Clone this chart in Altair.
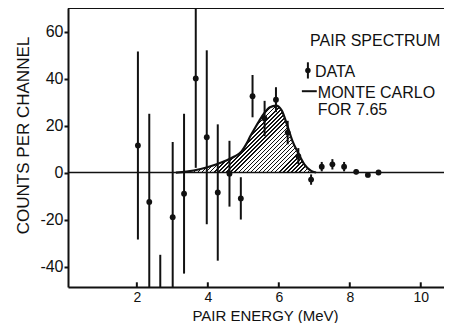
import altair as alt
import pandas as pd

# ---- data ----
energy = [2.03, 2.35, 2.66, 3.01, 3.33, 3.66, 3.97, 4.28, 4.61, 4.93, 5.26,
          5.60, 5.92, 6.25, 6.55, 6.91, 7.21, 7.51, 7.84, 8.18, 8.51, 8.81]
counts = [11.5, -12.5, -75, -19, -9, 40, 15, -8.5, -0.5, -11, 32.5,
          23, 31, 17, 7, -3, 2.5, 3.5, 2.5, 0.3, -1, 0]
errors = [40, 37.5, 40, 32, 34, 38, 37, 29, 14, 9, 9,
          7.5, 5.3, 5, 3.4, 2.2, 2, 2.2, 2, 1, 1, 1]

mc_energy = [3.1, 3.4, 3.8, 4.25, 4.5, 4.75, 4.95, 5.1, 5.2, 5.35, 5.45,
             5.6, 5.75, 5.92, 6.08, 6.24, 6.38, 6.55, 6.72, 6.9, 7.05]
mc_counts = [0, 0.4, 1.5, 3.5, 5, 6.8, 9, 12.5, 15.5, 19.5, 22,
             25.5, 27.8, 28.5, 26.5, 20, 13.6, 8.2, 3.5, 0.8, 0]

x_ticks = [2, 4, 6, 8, 10]
y_ticks = [-40, -20, 0, 20, 40, 60]

legend_text = ["PAIR SPECTRUM", "DATA", "MONTE CARLO", "FOR 7.65"]
legend_x = [6.88, 7.02, 7.10, 7.10]
legend_y = [54.0, 40.5, 31.8, 24.6]

# ---- layout ----
X_DOM = [0.06, 10.655]
Y_DOM = [-48.7, 70]
W, H = 376, 279
INK = "#111111"
FONT = "Liberation Sans"

xs = alt.Scale(domain=X_DOM, nice=False, zero=False)
ys = alt.Scale(domain=Y_DOM, nice=False, zero=False)

pts = pd.DataFrame({"E": energy, "v": counts,
                    "lo": [c - e for c, e in zip(counts, errors)],
                    "hi": [c + e for c, e in zip(counts, errors)]})
mc = pd.DataFrame({"E": mc_energy, "v": mc_counts})
ticks = pd.DataFrame({"E": x_ticks})
leg = pd.DataFrame({"E": legend_x, "v": legend_y, "t": legend_text})
zero_df = pd.DataFrame({"v": [0]})
top_df = pd.DataFrame({"v": [Y_DOM[1]]})

# hatch pattern as a striped gradient over the area's bounding box
px_per_E = W / (X_DOM[1] - X_DOM[0])
px_per_v = H / (Y_DOM[1] - Y_DOM[0])
bw = (max(mc_energy) - min(mc_energy)) * px_per_E
bh = max(mc_counts) * px_per_v
r = bh / bw
a = (1 + r) / (1 + r * r)
n = int((bw + bh) / 4.0)
stops = []
for k in range(n):
    stops += [alt.GradientStop(color="white", offset=k / n),
              alt.GradientStop(color="white", offset=(k + 0.66) / n),
              alt.GradientStop(color=INK, offset=(k + 0.66) / n),
              alt.GradientStop(color=INK, offset=(k + 1) / n)]
hatch = alt.LinearGradient(gradient="linear", stops=stops,
                           x1=0, y1=0, x2=a, y2=a * r)

xaxis = alt.Axis(values=x_ticks, tickSize=0, labelPadding=3, labelFontSize=14,
                 domainWidth=2, domainColor=INK, labelColor=INK, grid=False,
                 title="PAIR ENERGY (MeV)", titleFontSize=15, titleFontWeight="normal",
                 titleColor=INK, titleX=197, titleY=33, titleAlign="center",
                 titleBaseline="alphabetic", labelFlush=False)
yaxis = alt.Axis(values=y_ticks, tickSize=4, tickWidth=2, tickColor=INK,
                 labelPadding=1, labelFontSize=16, domainWidth=2, domainColor=INK,
                 labelColor=INK, grid=False, labelExpr="'' + datum.value",
                 title="COUNTS PER CHANNEL", titleFontSize=17, titleFontWeight="normal",
                 titleColor=INK, titleX=-40, titleY=127, titleAngle=-90,
                 titleAlign="center", titleBaseline="alphabetic")


def X(f):
    return alt.X(f, scale=xs, axis=xaxis)


def Y(f):
    return alt.Y(f, scale=ys, axis=yaxis)


area = alt.Chart(mc).mark_area(color=hatch, interpolate="monotone", clip=True).encode(
    x=X("E:Q"), y=Y("v:Q"), y2=alt.datum(0))
zero = alt.Chart(zero_df).mark_rule(color=INK, strokeWidth=1.4).encode(y=Y("v:Q"))
top = alt.Chart(top_df).mark_rule(color=INK, strokeWidth=2).encode(y=Y("v:Q"))
curve = alt.Chart(mc).mark_line(color=INK, strokeWidth=2.2, interpolate="monotone").encode(
    x=X("E:Q"), y=Y("v:Q"))
bars = alt.Chart(pts).mark_rule(color=INK, strokeWidth=2, clip=True).encode(
    x=X("E:Q"), y=Y("lo:Q"), y2="hi:Q")
dots = alt.Chart(pts).mark_circle(color=INK, size=34, opacity=1, clip=True).encode(
    x=X("E:Q"), y=Y("v:Q"))
xt = alt.Chart(ticks).mark_rule(color=INK, strokeWidth=2).encode(
    x=X("E:Q"), y=alt.datum(Y_DOM[0]), y2=alt.datum(Y_DOM[0] + 2))
texts = alt.Chart(leg).mark_text(align="left", baseline="alphabetic", fontSize=16,
                                 font=FONT, color=INK).encode(
    x=X("E:Q"), y=Y("v:Q"), text="t:N")
# legend symbols
sym_bar = alt.Chart(pd.DataFrame({"E": [6.82], "lo": [40.0], "hi": [46.9]})).mark_rule(
    color=INK, strokeWidth=2).encode(x=X("E:Q"), y=Y("lo:Q"), y2="hi:Q")
sym_dot = alt.Chart(pd.DataFrame({"E": [6.82], "v": [43.4]})).mark_circle(
    color=INK, size=30, opacity=1).encode(x=X("E:Q"), y=Y("v:Q"))
sym_dash = alt.Chart(pd.DataFrame({"E": [6.65], "E2": [7.07], "v": [34.6]})).mark_rule(
    color=INK, strokeWidth=2).encode(x=X("E:Q"), x2="E2:Q", y=Y("v:Q"))

chart = alt.layer(area, zero, top, curve, bars, dots, xt, texts,
                  sym_bar, sym_dot, sym_dash).properties(
    width=W, height=H,
    padding={"left": 60, "top": 0, "right": 0, "bottom": 36},
    autosize="none",
).configure(font=FONT).configure_view(stroke=None)

chart.save("out.html", embed_options={"renderer": "svg", "actions": False})
